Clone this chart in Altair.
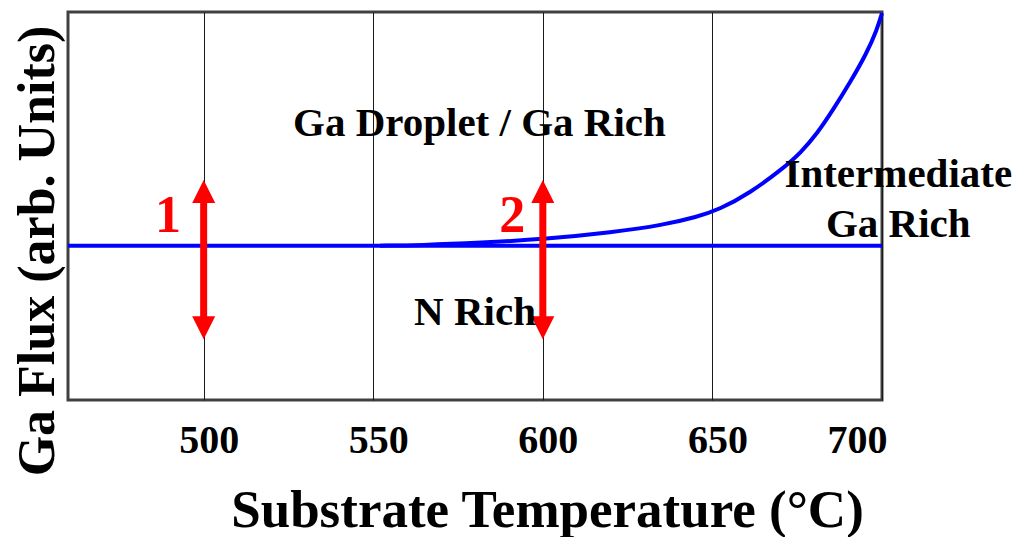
import altair as alt
import pandas as pd

FONT = "Liberation Serif"

# Phase boundaries (substrate temperature in °C vs. Ga flux, arbitrary units)
flat_temps = [460, 700]
flat_flux = [3.977, 3.977]

curve_temps = [552, 564, 581.5, 601, 620.5, 635.5, 645.5, 652, 661, 671, 676, 681,
               685.5, 690.5, 695.5, 698.5, 700]
curve_flux = [3.977, 3.99, 4.05, 4.15, 4.32, 4.51, 4.72, 4.91, 5.33, 5.98, 6.37, 6.88,
              7.47, 8.17, 8.94, 9.54, 9.97]

# Double-headed growth arrows
arrow_temps = [500, 600]
arrow_low = [1.57, 1.57]
arrow_high = [5.67, 5.67]
head_len = 0.59

# Arrow numbers
num_temps = [489.5, 591.0]
num_flux = [4.34, 4.34]
num_text = ["1", "2"]

# Region labels
label_temps = [581.3, 580.0, 704.8, 704.8]
label_flux = [6.80, 1.93, 5.50, 4.21]
label_text = ["Ga Droplet / Ga Rich", "N Rich", "Intermediate", "Ga Rich"]

tick_values = [500, 550, 600, 650, 700]

flat_df = pd.DataFrame({"t": flat_temps, "f": flat_flux})
curve_df = pd.DataFrame({"t": curve_temps, "f": curve_flux})
shaft_df = pd.DataFrame({
    "t": arrow_temps,
    "f": [lo + head_len / 2 for lo in arrow_low],
    "f2": [hi - head_len / 2 for hi in arrow_high],
})
up_df = pd.DataFrame({"t": arrow_temps, "f": [hi - head_len / 2 for hi in arrow_high]})
down_df = pd.DataFrame({"t": arrow_temps, "f": [lo + head_len / 2 for lo in arrow_low]})
num_df = pd.DataFrame({"t": num_temps, "f": num_flux, "txt": num_text})
label_df = pd.DataFrame({"t": label_temps, "f": label_flux, "txt": label_text})

x_scale = alt.Scale(domain=[460, 700], nice=False, zero=False)
y_scale = alt.Scale(domain=[0, 10], nice=False, zero=False)

x_axis = alt.Axis(
    values=tick_values,
    title="Substrate Temperature (°C)",
    titleFont=FONT, titleFontSize=53, titleFontWeight="bold", titleColor="black",
    titleX=479, titleY=126, titleAlign="center", titleBaseline="alphabetic",
    labelFont=FONT, labelFontSize=40, labelFontWeight="bold", labelColor="black",
    labelBaseline="alphabetic", labelPadding=52, labelOffset=5,
    ticks=False, tickSize=0, domain=False,
    grid=True, gridColor="#1a1a1a", gridWidth=1, gridOpacity=1,
)
y_axis = alt.Axis(
    title="Ga Flux (arb. Units)",
    titleFont=FONT, titleFontSize=52, titleFontWeight="bold", titleColor="black",
    titleAngle=270, titleX=-15, titleY=238.5, titleAlign="center", titleBaseline="alphabetic",
    labels=False, ticks=False, tickSize=0, domain=False, grid=False,
)

flat = alt.Chart(flat_df).mark_line(color="#0000ff", strokeWidth=4).encode(
    x=alt.X("t:Q", scale=x_scale, axis=x_axis),
    y=alt.Y("f:Q", scale=y_scale, axis=y_axis),
)
curve = alt.Chart(curve_df).mark_line(color="#0000ff", strokeWidth=4, interpolate="basis").encode(
    x="t:Q", y="f:Q"
)
shaft = alt.Chart(shaft_df).mark_rule(color="#ff0000", strokeWidth=7).encode(
    x="t:Q", y="f:Q", y2="f2:Q"
)
up_head = alt.Chart(up_df).mark_point(
    shape="M0,-1L-1,1L1,1Z", filled=True, color="#ff0000", opacity=1, size=529, strokeWidth=0
).encode(x="t:Q", y="f:Q")
down_head = alt.Chart(down_df).mark_point(
    shape="M0,1L-1,-1L1,-1Z", filled=True, color="#ff0000", opacity=1, size=529, strokeWidth=0
).encode(x="t:Q", y="f:Q")
numbers = alt.Chart(num_df).mark_text(
    font=FONT, fontSize=52, fontWeight="bold", color="#ff0000",
    align="center", baseline="alphabetic",
).encode(x="t:Q", y="f:Q", text="txt:N")
labels = alt.Chart(label_df).mark_text(
    font=FONT, fontSize=41, fontWeight="bold", color="black",
    align="center", baseline="alphabetic",
).encode(x="t:Q", y="f:Q", text="txt:N")

chart = alt.layer(flat, curve, shaft, up_head, down_head, numbers, labels).properties(
    width=814,
    height=388,
    autosize="none",
    padding={"left": 68, "top": 12, "right": 138, "bottom": 137},
    background="white",
).configure_view(stroke="#404040", strokeWidth=3)

chart.save("out.html", embed_options={"renderer": "svg", "actions": False})
